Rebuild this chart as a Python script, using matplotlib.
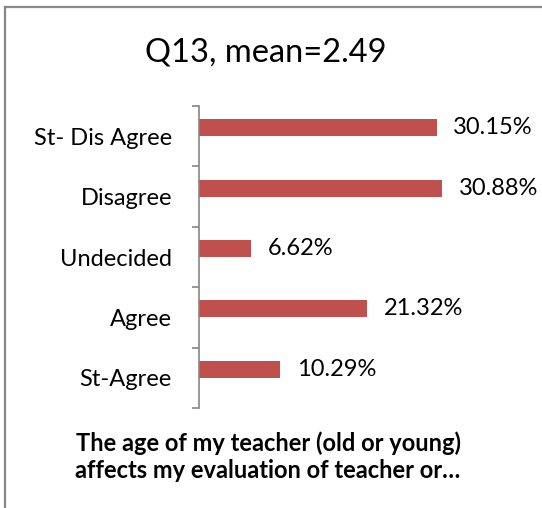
import matplotlib
matplotlib.use("Agg")
import matplotlib.pyplot as plt
from matplotlib.lines import Line2D
import numpy as np

categories = ["St- Dis Agree", "Disagree", "Undecided", "Agree", "St-Agree"]
values = [30.15, 30.88, 6.62, 21.32, 10.29]
value_labels = ["30.15%", "30.88%", "6.62%", "21.32%", "10.29%"]
title = "Q13, mean=2.49"
xlabel = "The age of my teacher (old or young)\naffects my evaluation of teacher or…"

plt.rcParams['font.family'] = ['Lato', 'DejaVu Sans']

fig = plt.figure(figsize=(5.42, 5.08), dpi=100)
ax = fig.add_axes([199/542, 1-408/508, (530-199)/542, (408-106)/508])

y = np.arange(len(categories))
bar_offset = -0.14
ax.barh(y + bar_offset, values, height=0.28, color="#C0504D")
ax.set_ylim(len(categories)-0.5, -0.5)
ax.set_xlim(0, 42)

for yi, v, lab in zip(y, values, value_labels):
    ax.annotate(lab, (v, yi + bar_offset), xytext=(12, 0), textcoords="offset points",
                va="center", ha="left", fontsize=17, color="black")

ax.set_yticks(y)
ax.set_yticklabels(categories, fontsize=17)
ax.set_yticks(np.arange(-0.5, len(categories), 1), minor=True)
ax.tick_params(axis='y', which='major', length=0, pad=19.5)
ax.tick_params(axis='y', which='minor', length=5, color="#868686", width=1.2)
ax.set_xticks([])
for s in ["top", "right", "bottom"]:
    ax.spines[s].set_visible(False)
ax.spines["left"].set_color("#868686")
ax.spines["left"].set_linewidth(1.2)

fig.text(266/542, 1-52/508, title, ha="center", va="center", fontsize=23.5)
fig.text(268/542, 1-457/508, xlabel, ha="center", va="center", fontsize=17,
         fontweight="bold", linespacing=1.2)

fig.add_artist(Line2D([5/542, 5/542], [0, 1-7/508], transform=fig.transFigure,
                      color="#888888", linewidth=1.6))
fig.add_artist(Line2D([5/542, 1], [1-7/508, 1-7/508], transform=fig.transFigure,
                      color="#888888", linewidth=1.6))

fig.savefig("out.png", dpi=100)
